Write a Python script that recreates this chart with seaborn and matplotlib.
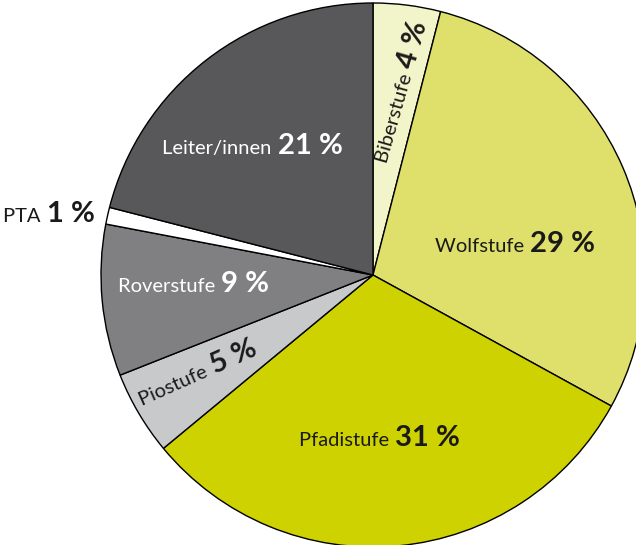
import numpy as np
import matplotlib.pyplot as plt
import seaborn as sns

# data, clockwise from 12 o'clock
labels = ["Biberstufe", "Wolfstufe", "Pfadistufe", "Piostufe", "Roverstufe", "PTA", "Leiter/innen"]
shares = [4, 29, 31, 5, 9, 1, 21]
colors = ["#f2f4c9", "#dfe06b", "#cdd200", "#c8c9cb", "#808082", "#ffffff", "#58585a"]

sns.set_theme(style="white")
plt.rcParams['font.family'] = ['Lato', 'DejaVu Sans']

fig = plt.figure(figsize=(6.36, 5.45), dpi=100)
ax = fig.add_axes([0, 0, 1, 1])

wedges, _ = ax.pie(shares, colors=colors, startangle=90, counterclock=False,
                   radius=1, wedgeprops={'edgecolor': 'black', 'linewidth': 1.0})

# pixel layout: centre at (373, 275), radius 272
s = 272.0
ax.set_xlim(-373 / s, (636 - 373) / s)
ax.set_ylim(-(545 - 275) / s, 275 / s)
ax.set_aspect('equal')
ax.axis('off')


def px(x, y):
    return (x - 373) / s, (275 - y) / s


# label anchors on the baseline (between name and percent), rotation, text colour
label_pos = {
    "Biberstufe": (414, 71, 74, "#1a1a1a"),
    "Wolfstufe": (529, 252, 0, "#1a1a1a"),
    "Pfadistufe": (394, 446, 0, "#1a1a1a"),
    "Piostufe": (214, 374, 24, "#1a1a1a"),
    "Roverstufe": (220, 292, 0, "white"),
    "PTA": (46, 222, 0, "#1a1a1a"),
    "Leiter/innen": (277, 154, 0, "white"),
}

for name, val in zip(labels, shares):
    x, y, rot, c = label_pos[name]
    dx, dy = np.cos(np.radians(rot)), -np.sin(np.radians(rot))
    ax.text(*px(x, y), name + " ", ha='right', va='baseline',
            rotation=rot, rotation_mode='anchor', fontsize=14.5, color=c)
    ax.text(*px(x + 1 * dx, y + 1 * dy), f"{val} %", ha='left', va='baseline',
            rotation=rot, rotation_mode='anchor', fontsize=21, fontweight='bold', color=c)

fig.savefig("out.png", dpi=100)
